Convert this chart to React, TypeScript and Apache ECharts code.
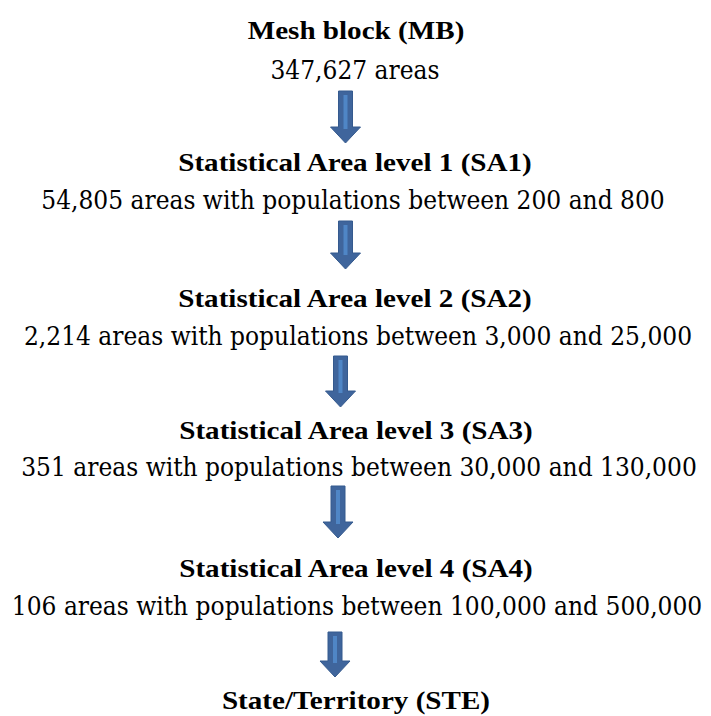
import React, { useEffect, useRef } from "react";
import * as echarts from "echarts";

const levelTitles = [
  "Mesh block (MB)",
  "Statistical Area level 1 (SA1)",
  "Statistical Area level 2 (SA2)",
  "Statistical Area level 3 (SA3)",
  "Statistical Area level 4 (SA4)",
  "State/Territory (STE)",
];
const levelDescriptions = [
  "347,627 areas",
  "54,805 areas with populations between 200 and 800",
  "2,214 areas with populations between 3,000 and 25,000",
  "351 areas with populations between 30,000 and 130,000",
  "106 areas with populations between 100,000 and 500,000",
  "",
];

// layout
const titleY = [30, 162, 298, 430, 568, 700];
const descY = [70, 200, 336, 467, 606];
const textCx = [356, 355, 355, 356, 356, 356];
const descCx = [355, 353, 358, 359, 357];
const arrowCx = [345.5, 345.5, 340.5, 338, 335];
const arrowTop = [91, 221, 356, 486, 632];
const arrowTip = [143, 269, 407, 538, 677];

const TITLE_FONT = "'Liberation Serif', 'Times New Roman', serif";
const DESC_FONT = "'DejaVu Serif'";
const SX = 1.12;
const DSX = 0.9;

export default function App() {
  const ref = useRef<HTMLDivElement>(null);
  useEffect(() => {
    document.body.style.margin = "0";
    document.body.style.overflow = "hidden";
    const chart = echarts.init(ref.current!, null, { renderer: "svg" });
    const elements: any[] = [];
    levelTitles.forEach((t, i) => {
      elements.push({
        type: "text",
        x: textCx[i],
        y: titleY[i],
        scaleX: SX,
        style: {
          text: t,
          fontFamily: TITLE_FONT,
          fontSize: 26,
          fontWeight: "bold",
          fill: "#000",
          textAlign: "center",
          textVerticalAlign: "middle",
        },
      });
    });
    levelDescriptions.forEach((t, i) => {
      if (!t) return;
      elements.push({
        type: "text",
        x: descCx[i],
        y: descY[i],
        scaleX: DSX,
        style: {
          text: t,
          fontFamily: DESC_FONT,
          fontSize: 26,
          fontWeight: "normal",
          fill: "#000",
          textAlign: "center",
          textVerticalAlign: "middle",
        },
      });
    });
    arrowCx.forEach((cx, i) => {
      const top = arrowTop[i];
      const tip = arrowTip[i];
      const headStart = tip - 16;
      const sw = 7;
      const hw = 15;
      elements.push({
        type: "polygon",
        shape: {
          points: [
            [cx - sw, top],
            [cx + sw, top],
            [cx + sw, headStart],
            [cx + hw, headStart],
            [cx, tip],
            [cx - hw, headStart],
            [cx - sw, headStart],
          ],
        },
        style: { fill: "#3F659C", stroke: "#355A8E", lineWidth: 1 },
      });
      elements.push({
        type: "rect",
        shape: { x: cx - 2, y: top + 4, width: 4, height: headStart - top - 2 },
        style: { fill: "#4F86C6" },
      });
    });
    chart.setOption({
      animation: false,
      backgroundColor: "#ffffff",
      graphic: { elements },
    });
    return () => chart.dispose();
  }, []);
  return <div ref={ref} style={{ width: 711, height: 716 }} />;
}
